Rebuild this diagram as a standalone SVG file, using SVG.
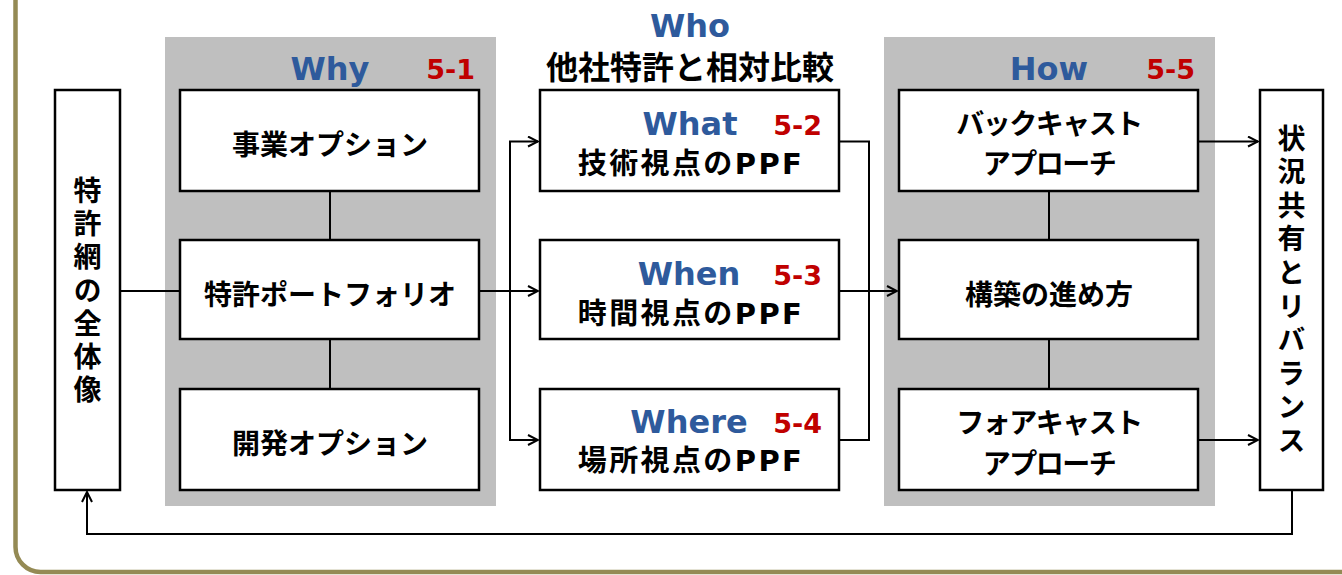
<svg xmlns="http://www.w3.org/2000/svg" width="1342" height="575" viewBox="0 0 1342 575">
<defs>
<marker id="arr" viewBox="0 0 12 12" refX="11" refY="6" markerWidth="12" markerHeight="12" markerUnits="userSpaceOnUse" orient="auto">
<path d="M1,1 L11,6 L1,11" fill="none" stroke="#000" stroke-width="2"/>
</marker>
<style>
.box{fill:#fff;stroke:#000;stroke-width:2.5}
.panel{fill:#BFBFBF}
.jp{font-family:"Noto Sans CJK JP",sans-serif;font-weight:bold;font-size:28px;fill:#000;text-anchor:middle}
.vt{font-family:"Noto Sans CJK JP",sans-serif;font-weight:bold;font-size:28px;fill:#000;writing-mode:vertical-rl;text-anchor:start}
.mix{font-family:"DejaVu Sans","Noto Sans CJK JP",sans-serif;font-weight:bold;font-size:29px;letter-spacing:2.4px;fill:#000;text-anchor:middle}
.ttl{font-family:"DejaVu Sans",sans-serif;font-weight:bold;font-size:32px;fill:#2E5A9C;text-anchor:middle}
.num{font-family:"DejaVu Sans",sans-serif;font-weight:bold;font-size:27px;fill:#C00000;text-anchor:end}
.ln{fill:none;stroke:#000;stroke-width:2}
</style>
</defs>
<rect x="15.5" y="-40" width="1350" height="612" rx="25" fill="#fff" stroke="#948A54" stroke-width="4.5"/>

<g id="panel-why"><rect class="panel" x="165" y="37" width="331" height="469"/>
<text class="ttl" x="330" y="80">Why</text><text class="num" x="475" y="79">5-1</text></g>
<g id="panel-how"><rect class="panel" x="884" y="37" width="331" height="469"/>
<text class="ttl" x="1049" y="80">How</text><text class="num" x="1195" y="79">5-5</text></g>
<g id="title-who"><text class="ttl" x="690" y="37">Who</text>
<text class="jp" x="690" y="79" style="font-size:32px">他社特許と相対比較</text></g>

<g id="connectors">
<path class="ln" d="M120,291 H180"/>
<path class="ln" d="M330,191 V240 M330,339 V389"/>
<path class="ln" d="M479,291 H538" marker-end="url(#arr)"/>
<path class="ln" d="M510,291 V141.5 H538" marker-end="url(#arr)"/>
<path class="ln" d="M510,291 V440 H538" marker-end="url(#arr)"/>
<path class="ln" d="M839,141.5 H869 V440 H839"/>
<path class="ln" d="M839,291 H897" marker-end="url(#arr)"/>
<path class="ln" d="M1049,191 V240 M1049,339 V389"/>
<path class="ln" d="M1198,141.5 H1258" marker-end="url(#arr)"/>
<path class="ln" d="M1198,440 H1258" marker-end="url(#arr)"/>
<path class="ln" d="M1292,490 V534 H87 V492" marker-end="url(#arr)"/>
</g>

<g id="node-zentai"><rect class="box" x="55" y="90" width="65" height="400"/>
<text class="vt" x="87.5" y="176" style="letter-spacing:5.3px">特許網の全体像</text></g>

<g id="node-jigyo"><rect class="box" x="180" y="90" width="299" height="101"/><text class="jp" x="330" y="155">事業オプション</text></g>
<g id="node-portfolio"><rect class="box" x="180" y="240" width="299" height="99"/><text class="jp" x="330" y="305">特許ポートフォリオ</text></g>
<g id="node-kaihatsu"><rect class="box" x="180" y="389" width="299" height="101"/><text class="jp" x="330" y="454">開発オプション</text></g>

<g id="node-what"><rect class="box" x="540" y="90" width="299" height="101"/>
<text class="ttl" x="690" y="135">What</text><text class="num" x="822" y="135">5-2</text>
<text class="mix" x="691" y="174">技術視点のPPF</text></g>
<g id="node-when"><rect class="box" x="540" y="240" width="299" height="99"/>
<text class="ttl" x="689" y="285">When</text><text class="num" x="822" y="285">5-3</text>
<text class="mix" x="691" y="324">時間視点のPPF</text></g>
<g id="node-where"><rect class="box" x="540" y="389" width="299" height="101"/>
<text class="ttl" x="689" y="433">Where</text><text class="num" x="822" y="433">5-4</text>
<text class="mix" x="691" y="471">場所視点のPPF</text></g>

<g id="node-backcast"><rect class="box" x="899" y="90" width="299" height="101"/>
<text class="jp" x="1049" y="134" style="letter-spacing:-1.5px">バックキャスト</text><text class="jp" x="1049" y="174" style="letter-spacing:-1.5px">アプローチ</text></g>
<g id="node-kochiku"><rect class="box" x="899" y="240" width="299" height="99"/><text class="jp" x="1049" y="305">構築の進め方</text></g>
<g id="node-forecast"><rect class="box" x="899" y="389" width="299" height="101"/>
<text class="jp" x="1049" y="433" style="letter-spacing:-1.5px">フォアキャスト</text><text class="jp" x="1049" y="474" style="letter-spacing:-1.5px">アプローチ</text></g>

<g id="node-rebalance"><rect class="box" x="1260" y="90" width="63" height="400"/>
<text class="vt" x="1291.5" y="124" style="letter-spacing:5.6px">状況共有とリバランス</text></g>
</svg>
